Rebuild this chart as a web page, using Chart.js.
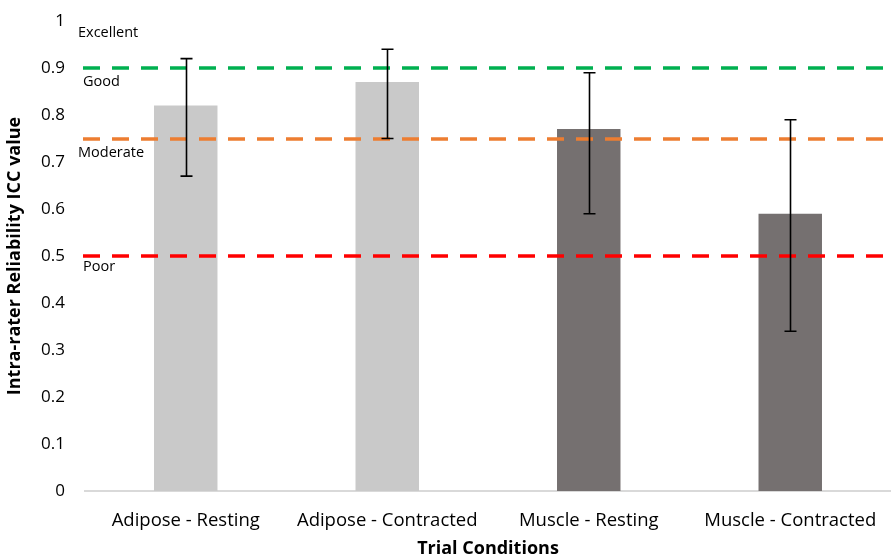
<!DOCTYPE html>
<html>
<head>
<meta charset="utf-8">
<script src="https://cdn.jsdelivr.net/npm/chart.js@4"></script>
<style>
  body { margin: 0; background: #fff; }
</style>
</head>
<body>
<canvas id="chart" width="891" height="560"></canvas>
<script>
const categories = ['Adipose - Resting', 'Adipose - Contracted', 'Muscle - Resting', 'Muscle - Contracted'];
const iccValues = [0.82, 0.87, 0.77, 0.59];
const ciLow = [0.67, 0.75, 0.59, 0.34];
const ciHigh = [0.92, 0.94, 0.89, 0.79];
const barColors = ['#c9c9c9', '#c9c9c9', '#757070', '#757070'];

const thresholds = [0.9, 0.75, 0.5];
const thresholdColors = ['#00b050', '#ed7d31', '#ff0000'];
const thresholdLabels = ['Good', 'Moderate', 'Poor'];
const topLabel = 'Excellent';

const FONT = '"Open Sans", Lato, sans-serif';
const ctx = document.getElementById('chart').getContext('2d');

// dashed reliability bands, labels and error bars drawn on top of the bars
const overlay = {
    id: 'overlay',
    afterDatasetsDraw(chart) {
        const c = chart.ctx;
        const area = chart.chartArea;
        const y = chart.scales.y;
        const x = chart.scales.x;

        c.save();
        c.lineWidth = 3.5;
        c.setLineDash([17, 12]);
        thresholds.forEach((t, i) => {
            const py = Math.round(y.getPixelForValue(t));
            c.strokeStyle = thresholdColors[i];
            c.beginPath();
            c.moveTo(area.left - 2, py);
            c.lineTo(area.right, py);
            c.stroke();
        });
        c.setLineDash([]);

        c.fillStyle = '#000';
        c.font = '14.5px ' + FONT;
        c.textBaseline = 'middle';
        c.textAlign = 'left';
        const g = y.getPixelForValue(thresholds[0]);
        c.fillText(topLabel, area.left - 7, g - 35);
        c.fillText(thresholdLabels[0], area.left - 2, g + 14);
        c.fillText(thresholdLabels[1], area.left - 7, y.getPixelForValue(thresholds[1]) + 14);
        c.fillText(thresholdLabels[2], area.left - 2, y.getPixelForValue(thresholds[2]) + 11);

        c.strokeStyle = '#000';
        c.lineWidth = 1.6;
        categories.forEach((cat, i) => {
            const px = Math.round(x.getPixelForValue(i)) + 0.5;
            const top = y.getPixelForValue(ciHigh[i]);
            const bot = y.getPixelForValue(ciLow[i]);
            c.beginPath();
            c.moveTo(px, top);
            c.lineTo(px, bot);
            c.moveTo(px - 6, top);
            c.lineTo(px + 6, top);
            c.moveTo(px - 6, bot);
            c.lineTo(px + 6, bot);
            c.stroke();
        });
        c.restore();
    }
};

new Chart(ctx, {
    type: 'bar',
    data: {
        labels: categories,
        datasets: [{
            data: iccValues,
            backgroundColor: barColors,
            categoryPercentage: 1,
            barPercentage: 0.315,
        }],
    },
    options: {
        responsive: false,
        animation: false,
        layout: { padding: { top: 21, right: 0, left: 0, bottom: 0 } },
        plugins: {
            legend: { display: false },
            tooltip: { enabled: false },
        },
        scales: {
            x: {
                grid: { display: false, drawTicks: false },
                border: { color: '#d9d9d9', width: 2 },
                ticks: { color: '#000', font: { family: FONT, size: 18.5 }, padding: 19, maxRotation: 0 },
                title: { display: true, text: 'Trial Conditions', color: '#000', font: { family: FONT, size: 18, weight: 'bold' }, padding: { top: 6, bottom: 0 } },
                afterFit(scale) {
                    scale.height = 69;
                    scale.paddingLeft = 0;
                    scale.paddingRight = 0;
                },
            },
            y: {
                min: 0,
                max: 1,
                grid: { display: false, drawTicks: false },
                border: { display: false },
                ticks: {
                    stepSize: 0.1,
                    color: '#000',
                    font: { family: FONT, size: 17 },
                    padding: 20,
                    callback: v => Math.round(v * 10) / 10,
                },
                title: { display: true, text: 'Intra-rater Reliability ICC value', color: '#000', font: { family: FONT, size: 18, weight: 'bold' }, padding: { bottom: 2 } },
                afterFit(scale) {
                    scale.width = 85;
                    scale.paddingTop = 0;
                    scale.paddingBottom = 0;
                },
            },
        },
    },
    plugins: [overlay],
});
</script>
</body>
</html>
